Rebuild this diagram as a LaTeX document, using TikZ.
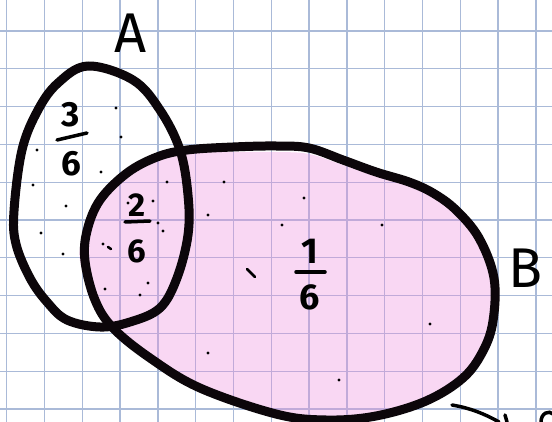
\documentclass[tikz,border=0pt]{standalone}
\usepackage{fontspec}
\setmainfont{Fira Sans}
\definecolor{gridblue}{RGB}{170,186,216}
\definecolor{inkblack}{RGB}{12,6,10}
\definecolor{sprayPink}{RGB}{240,140,220}
\begin{document}
\begin{tikzpicture}[x=1pt,y=-1pt,
  gridline/.style={draw=gridblue,line width=1.3pt},
  setline/.style={draw=inkblack,line width=9pt,line join=round},
  barline/.style={draw=black,line width=3.5pt,line cap=round},
  fracnode/.style={align=center,inner sep=0pt,text=black},
  setlabel/.style={inner sep=0pt,text=black,font=\fontsize{56}{56}\selectfont},
  speck/.style={fill=black},
  stroke/.style={draw=black,line width=3.5pt,line cap=round}]
\useasboundingbox (0,0) rectangle (552,422);
\fill[white] (0,0) rectangle (552,422);
% grid
\foreach \i in {0,...,14} \draw[gridline] ({6.7+37.8*\i},0) -- ({6.7+37.8*\i},422);
\foreach \j in {0,...,10} \draw[gridline] (0,{31+37.8*\j}) -- (552,{31+37.8*\j});
% pink shading of B
\fill[sprayPink,opacity=0.34]
  plot[smooth cycle,tension=0.6] coordinates {(80,261) (84,231) (98,200) (127,170) (157,157) (187,152) (233,152) (276,152) (309,154) (343,165) (376,176) (409,186) (433,197) (456,214) (476,240) (490,278) (492,321) (483,351) (463,378) (426,401) (376,416) (326,420) (276,414) (200,388) (150,358) (113,328) (95,300)};
% specks
\foreach \p in {(116,108),(121,137),(37,150),(101,172),(33,185),(167,182),(224,182),(66,206),(153,201),(128,203),(304,198),(208,215),(41,233),(63,254),(158,223),(163,231),(103,244),(148,283),(140,295),(105,289),(85,278),(208,353),(282,225),(382,225),(430,324),(339,380)}
  \fill[speck] \p circle (1.7);
\draw[stroke,line width=2.5pt] (108,247) -- (111,249);
\draw[stroke,line width=2.5pt] (247,269) -- (255,277);
% set A
\path[setline] plot[smooth cycle,tension=0.6] coordinates {(88,66) (133,80) (160,110) (180,150) (188,195) (188,235) (177,278) (160,308) (130,322) (100,327) (67,320) (47,302) (30,278) (16,244) (14,211) (22,150) (38,110) (58,83)};
% set B
\path[setline] plot[smooth cycle,tension=0.6] coordinates {(85,261) (87,231) (100,200) (127,173) (157,157) (187,150) (233,147) (276,146) (309,148) (343,160) (376,172) (409,182) (433,193) (456,210) (479,238) (494,278) (493,321) (483,351) (463,378) (426,401) (376,416) (326,420) (276,414) (200,388) (150,358) (113,328) (95,300)};
% labels
\node[setlabel] (labA) at (131,33) {A};
\node[setlabel,anchor=west] (labB) at (508,268) {B};
\node[fracnode,font=\bfseries\fontsize{35}{49}\selectfont] (f3) at (71,139) {3\\6};
\draw[barline] (57,140) -- (87,133);
\node[fracnode,font=\bfseries\fontsize{33}{46}\selectfont] (f2) at (137,228) {2\\6};
\draw[barline] (125,222) -- (150,221);
\node[fracnode,font=\bfseries\fontsize{36}{46}\selectfont] (f1) at (310,275) {1\\6};
\draw[barline] (296,272) -- (325,272);
% bottom right fragments
\draw[stroke] (452,405) .. controls (470,408) and (485,414) .. (499,422);
\draw[stroke] (505,415) -- (507,422);
\draw[stroke] (541,422) .. controls (541,413) and (549,410) .. (553,414);
\end{tikzpicture}
\end{document}
